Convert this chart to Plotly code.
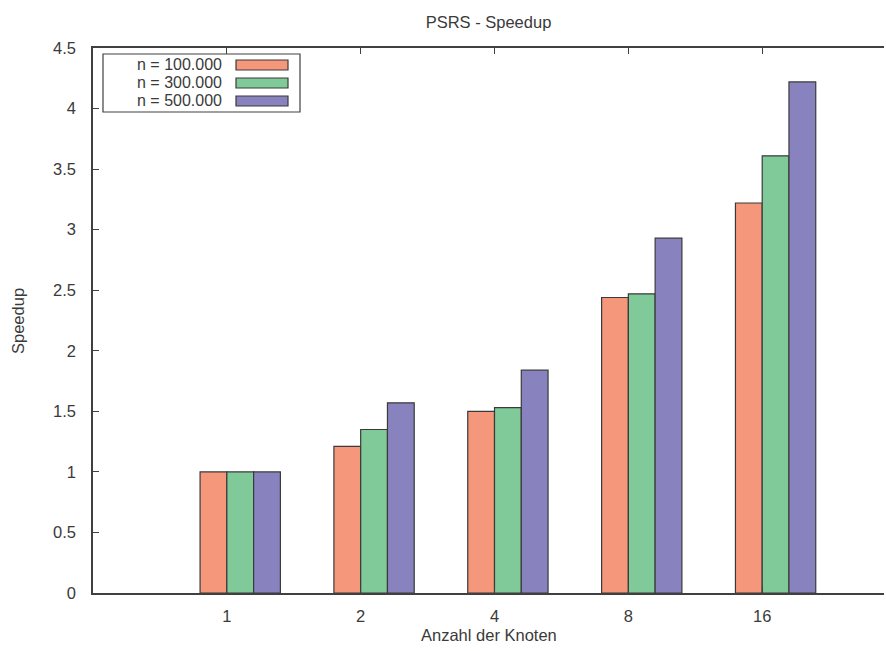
import plotly.graph_objects as go

categories = ["1", "2", "4", "8", "16"]
series_names = ["n = 100.000", "n = 300.000", "n = 500.000"]
speedup_100k = [1.0, 1.21, 1.50, 2.44, 3.22]
speedup_300k = [1.0, 1.35, 1.53, 2.47, 3.61]
speedup_500k = [1.0, 1.57, 1.84, 2.93, 4.22]
colors = ["#F4977A", "#80CA9A", "#8883BE"]
y_ticks = [0, 0.5, 1, 1.5, 2, 2.5, 3, 3.5, 4, 4.5]

W, H = 886, 651
L, R, T, B = 93, 884, 48, 593

def px(x):
    return (x - L) / (R - L)

def py(y):
    return (B - y) / (B - T)

FONT = "Liberation Sans, Arial, sans-serif"
FS = 16.5
TXT = "#3a3a3a"
AX = "#404040"

fig = go.Figure()
xs = list(range(len(categories)))
all_series = [speedup_100k, speedup_300k, speedup_500k]
bw = 0.2
for i, (name, vals) in enumerate(zip(series_names, all_series)):
    fig.add_trace(go.Bar(
        x=xs, y=vals, name=name, width=bw, offset=-bw + i * bw,
        marker=dict(color=colors[i], line=dict(color="#3a3a3a", width=1.2)),
        showlegend=False,
    ))

# custom gnuplot-style legend (text left, sample right)
fig.add_shape(type="rect", xref="paper", yref="paper",
              x0=px(103), x1=px(300), y0=py(112), y1=py(54),
              line=dict(color=AX, width=1.2), fillcolor="white")
row_y = [65, 83, 101]
for i, name in enumerate(series_names):
    fig.add_annotation(xref="paper", yref="paper", x=px(224), y=py(row_y[i]),
                       text=name, showarrow=False, xanchor="right", yanchor="middle",
                       font=dict(family=FONT, size=16, color=TXT))
    fig.add_shape(type="rect", xref="paper", yref="paper",
                  x0=px(236), x1=px(288), y0=py(row_y[i] + 5), y1=py(row_y[i] - 5),
                  line=dict(color="#3a3a3a", width=1.2), fillcolor=colors[i])

fig.add_annotation(xref="paper", yref="paper", x=(18 - L) / (R - L), y=py(321),
                   text="Speedup", textangle=-90, showarrow=False,
                   xanchor="center", yanchor="middle",
                   font=dict(family=FONT, size=FS, color=TXT))
fig.add_annotation(xref="paper", yref="paper", x=0.5, y=py(635),
                   text="Anzahl der Knoten", showarrow=False,
                   xanchor="center", yanchor="middle",
                   font=dict(family=FONT, size=FS, color=TXT))

fig.update_layout(
    width=W, height=H,
    margin=dict(l=L, r=W - R, t=T, b=H - B, pad=0),
    paper_bgcolor="white", plot_bgcolor="white",
    barmode="overlay",
    title=dict(text="PSRS - Speedup", x=(L + R) / 2 / W, xanchor="center",
               y=1 - 22 / H, yanchor="middle",
               font=dict(family=FONT, size=FS, color=TXT)),
    font=dict(family=FONT, size=FS, color=TXT),
    xaxis=dict(range=[-1, 4.91], tickvals=xs, ticktext=categories,
               ticks="inside", ticklen=6, tickcolor=AX, tickwidth=1,
               ticklabelstandoff=7,
               showline=True, linecolor=AX, linewidth=1.5, mirror="ticks",
               showgrid=False, zeroline=False),
    yaxis=dict(range=[0, 4.5], tickvals=y_ticks,
               ticktext=[f"{v:g}" for v in y_ticks],
               ticks="inside", ticklen=6, tickcolor=AX, tickwidth=1,
               ticklabelstandoff=12,
               showline=True, linecolor=AX, linewidth=1.5, mirror=False,
               showgrid=False, zeroline=False),
)

fig.write_html("out.html")
